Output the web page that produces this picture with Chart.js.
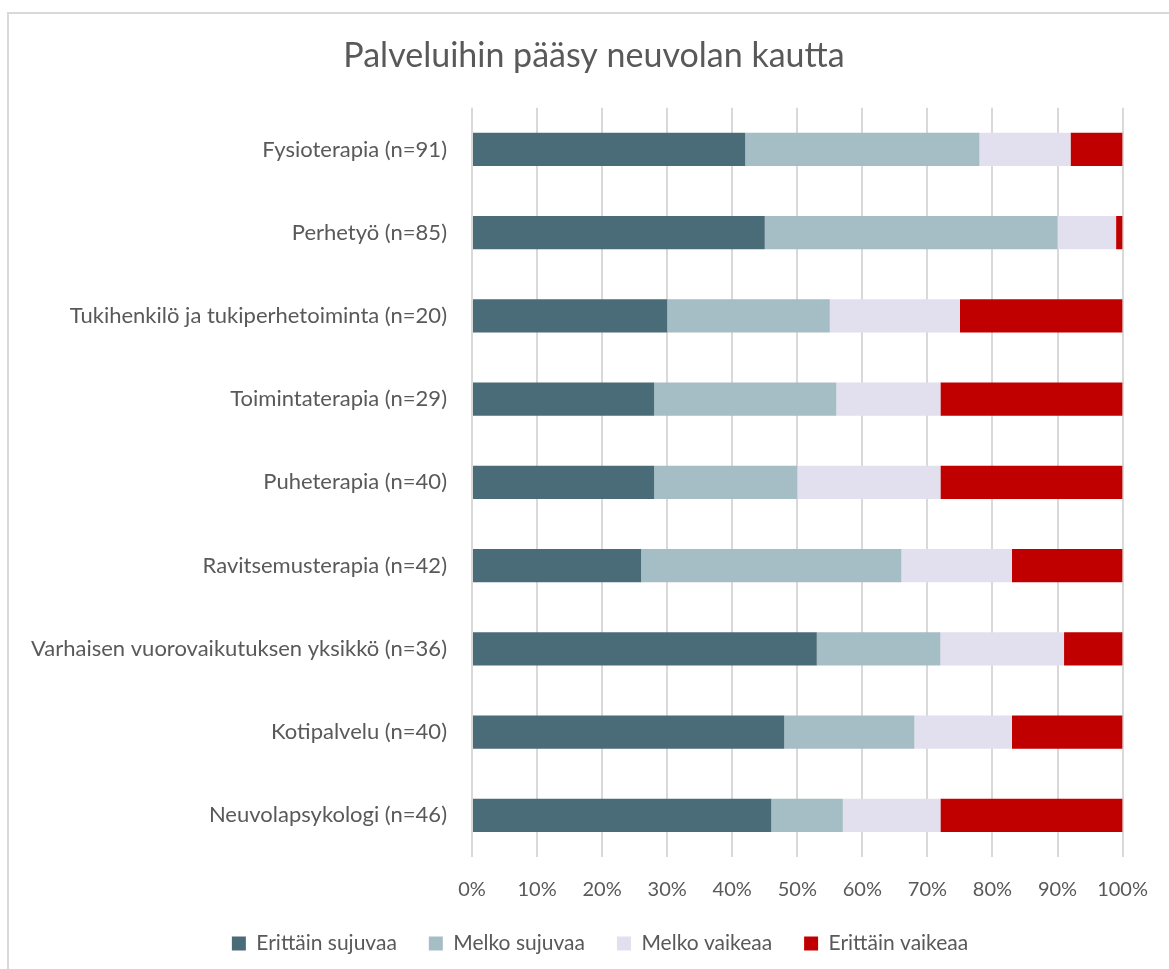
<!DOCTYPE html>
<html>
<head>
<meta charset="utf-8">
<script src="https://cdn.jsdelivr.net/npm/chart.js@4"></script>
<style>
  html, body { margin: 0; padding: 0; background: #fff; }
  #frame { position: absolute; left: 7px; top: 12px; width: 1300px; height: 1000px;
           border-top: 2px solid #d9d9d9; border-left: 2px solid #d9d9d9; }
  #wrap { position: absolute; left: 0; top: 0; width: 1169px; height: 969px; }
</style>
</head>
<body>
<div id="frame"></div>
<div id="wrap"><canvas id="chart"></canvas></div>
<script>
// Palveluihin pääsy neuvolan kautta (%)
const categories = [
    "Fysioterapia (n=91)",
    "Perhetyö (n=85)",
    "Tukihenkilö ja tukiperhetoiminta (n=20)",
    "Toimintaterapia (n=29)",
    "Puheterapia (n=40)",
    "Ravitsemusterapia (n=42)",
    "Varhaisen vuorovaikutuksen yksikkö (n=36)",
    "Kotipalvelu (n=40)",
    "Neuvolapsykologi (n=46)"
];
const erittainSujuvaa = [42, 45, 30, 28, 28, 26, 53, 48, 46];
const melkoSujuvaa    = [36, 45, 25, 28, 22, 40, 19, 20, 11];
const melkoVaikeaa    = [14,  9, 20, 16, 22, 17, 19, 15, 15];
const erittainVaikeaa = [ 8,  1, 25, 28, 28, 17,  9, 17, 28];
const xTicks = [0, 10, 20, 30, 40, 50, 60, 70, 80, 90, 100];

const font = "'Lato', 'Open Sans', sans-serif";
const textColor = "#595959";

// title and legend sit centred a bit right of the canvas middle,
// and the wide legend spacing should not push the legend down
const shiftHeader = {
    id: 'shiftHeader',
    afterLayout(chart) {
        if (chart.titleBlock) chart.titleBlock.left += 62;
        if (chart.legend) {
            chart.legend.left += 74;
            chart.legend.top -= 22;
        }
    }
};

new Chart(document.getElementById("chart"), {
    type: 'bar',
    data: {
        labels: categories,
        datasets: [
            { label: "Erittäin sujuvaa", data: erittainSujuvaa, backgroundColor: "#4a6b78" },
            { label: "Melko sujuvaa", data: melkoSujuvaa, backgroundColor: "#a5bdc4" },
            { label: "Melko vaikeaa", data: melkoVaikeaa, backgroundColor: "#e2dfee" },
            { label: "Erittäin vaikeaa", data: erittainVaikeaa, backgroundColor: "#c00000" }
        ]
    },
    plugins: [shiftHeader],
    options: {
        indexAxis: 'y',
        responsive: true,
        maintainAspectRatio: false,
        animation: false,
        datasets: {
            bar: { categoryPercentage: 1, barPercentage: 0.4, borderWidth: 0 }
        },
        layout: { padding: { left: 0, right: 43, top: 0, bottom: -17 } },
        plugins: {
            title: {
                display: true,
                text: "Palveluihin pääsy neuvolan kautta",
                color: textColor,
                font: { family: font, size: 34, weight: 'normal' },
                padding: { top: 36, bottom: 31 }
            },
            legend: {
                position: 'bottom',
                labels: {
                    color: textColor,
                    font: { family: font, size: 21 },
                    boxWidth: 14,
                    boxHeight: 14,
                    padding: 32
                }
            },
            tooltip: { enabled: false }
        },
        scales: {
            x: {
                stacked: true,
                min: 0,
                max: 100,
                afterBuildTicks: (scale) => { scale.ticks = xTicks.map(v => ({ value: v })); },
                ticks: {
                    color: textColor,
                    font: { family: font, size: 20 },
                    padding: 21,
                    callback: (v) => v + "%"
                },
                grid: { color: "#d9d9d9", lineWidth: 2, drawTicks: false },
                border: { display: false }
            },
            y: {
                stacked: true,
                afterFit: (scale) => { scale.width = 472; },
                ticks: {
                    color: textColor,
                    font: { family: font, size: 22 },
                    padding: 17
                },
                grid: { display: false },
                border: { display: false }
            }
        }
    }
});
</script>
</body>
</html>
